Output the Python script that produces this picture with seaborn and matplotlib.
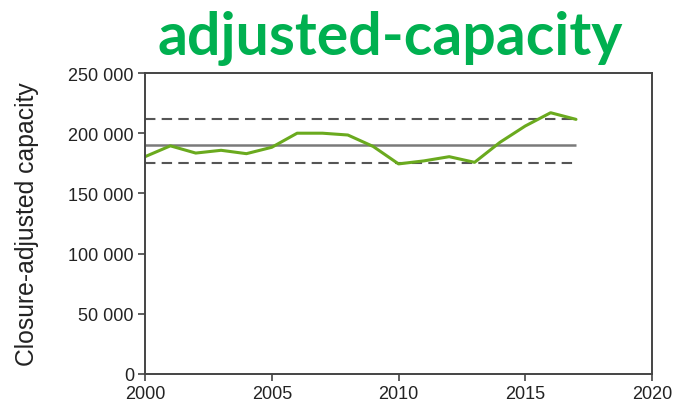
import matplotlib
matplotlib.use("Agg")
import matplotlib.pyplot as plt
import seaborn as sns
import pandas as pd
from matplotlib.ticker import FuncFormatter

years = list(range(2000, 2018))
capacity = [180500, 189500, 183500, 185800, 183000, 188300, 200000, 200000, 198500,
            189000, 174500, 177000, 180500, 175800, 192400, 206000, 217000, 211500]
mean_level = 190200
upper_level = 211500
lower_level = 175200
x_ticks = [2000, 2005, 2010, 2015, 2020]
y_ticks = [0, 50000, 100000, 150000, 200000, 250000]

df = pd.DataFrame({"year": years, "capacity": capacity})

sns.set_theme(style="white")
plt.rcParams['font.family'] = ['Liberation Sans', 'DejaVu Sans']

fig = plt.figure(figsize=(6.78, 4.10), dpi=100)
ax = fig.add_axes([0.2139, 0.0854, 0.7478, 0.7341])

ax.plot([years[0], years[-1]], [mean_level, mean_level], color="#7a7a7a", lw=1.8, solid_capstyle="butt")
ax.plot([years[0], years[-1]], [upper_level, upper_level], color="#555555", lw=1.5, ls=(0, (5, 3)))
ax.plot([years[0], years[-1]], [lower_level, lower_level], color="#555555", lw=1.5, ls=(0, (5, 3)))
sns.lineplot(data=df, x="year", y="capacity", ax=ax, color="#6aaa1e", lw=2.2)

ax.set_xlim(2000, 2020)
ax.set_ylim(0, 250000)
ax.set_xticks(x_ticks)
ax.set_yticks(y_ticks)
ax.yaxis.set_major_formatter(FuncFormatter(lambda v, p: f"{int(v):,}".replace(",", " ")))
ax.tick_params(axis="both", direction="out", length=5, width=1.2, color="#444444",
               labelsize=13, labelcolor="#222222", pad=3, left=True, bottom=True)
for s in ax.spines.values():
    s.set_color("#444444")
    s.set_linewidth(1.4)
ax.set_xlabel("")
ax.set_ylabel("Closure-adjusted capacity", fontsize=17.8, color="#222222", labelpad=21)

fig.text(0.575, 0.905, "adjusted-capacity", ha="center", va="center", fontsize=42.5,
         fontweight="bold", color="#00b050", family=["Lato", "DejaVu Sans"])

fig.savefig("out.png", dpi=100)
